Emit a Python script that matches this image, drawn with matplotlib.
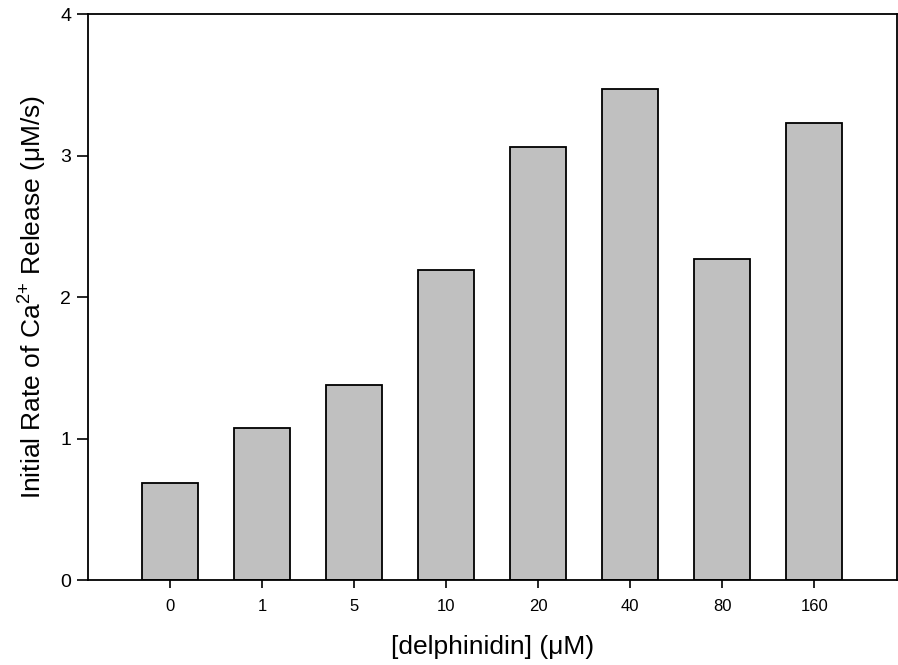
import matplotlib
matplotlib.use("Agg")
import matplotlib.pyplot as plt

plt.rcParams['font.family'] = ['Liberation Sans', 'DejaVu Sans']
plt.rcParams['mathtext.fontset'] = 'custom'
plt.rcParams['mathtext.rm'] = 'Liberation Sans'

concentrations = ["0", "1", "5", "10", "20", "40", "80", "160"]
release_rates = [0.685, 1.076, 1.38, 2.19, 3.064, 3.472, 2.27, 3.23]

fig = plt.figure(figsize=(8.98, 6.65), dpi=100)
ax = fig.add_axes([0.098, 0.1278, 0.9009, 0.8507])

positions = list(range(len(concentrations)))
ax.bar(positions, release_rates, width=0.61, color="#c0c0c0",
       edgecolor="black", linewidth=1.3)

ax.set_xlim(-0.89, 7.90)
ax.set_ylim(0, 4)
ax.set_xticks(positions)
ax.set_xticklabels(concentrations)
ax.set_yticks([0, 1, 2, 3, 4])

ax.tick_params(axis='y', direction='out', length=8, width=1.2, labelsize=14, pad=4)
ax.tick_params(axis='x', direction='out', length=6, width=1.2, labelsize=12, pad=8)
for spine in ax.spines.values():
    spine.set_linewidth(1.3)

mu = "\u03bc"
ax.set_xlabel("[delphinidin] (" + mu + "M)", fontsize=19, labelpad=15)
# braces around + keep mathtext from padding it like an operator
ax.set_ylabel(r"Initial Rate of Ca$^{\mathregular{2{+}}}$ Release (" + mu + "M/s)",
              fontsize=19, labelpad=9)

fig.savefig("out.png", dpi=100)
